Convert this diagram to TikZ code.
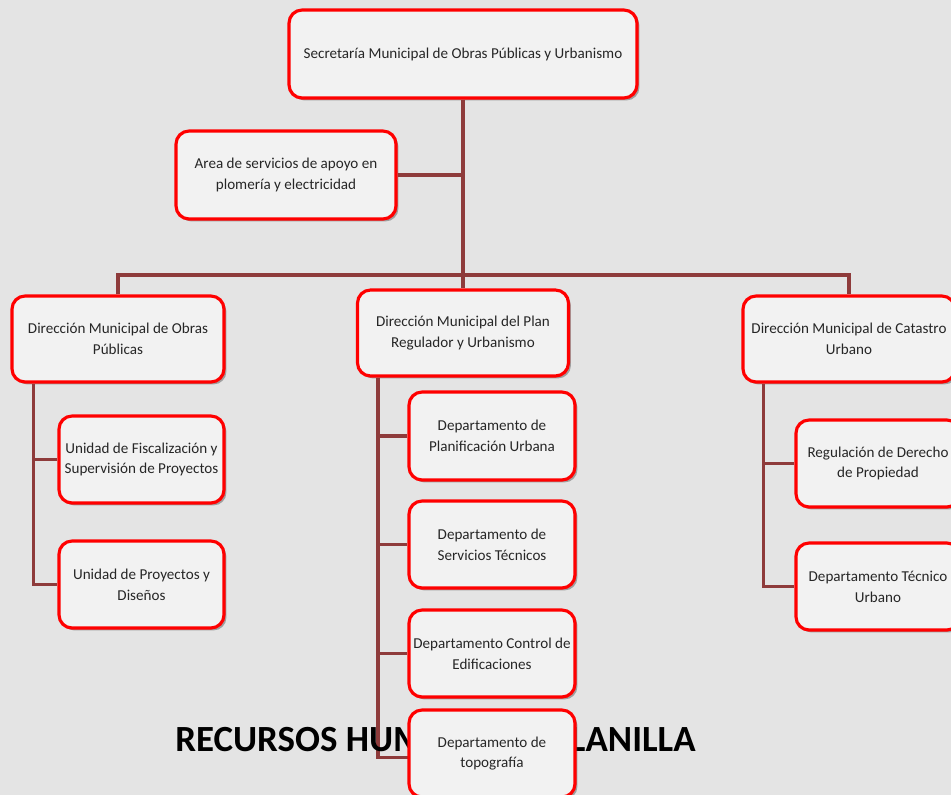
\documentclass[tikz,border=0pt]{standalone}
\usepackage{fontspec}
\setmainfont{Carlito}
\usetikzlibrary{shadows,calc}
\definecolor{bgc}{HTML}{E4E4E4}
\definecolor{linec}{HTML}{8E3B3B}
\definecolor{boxfill}{HTML}{F2F2F2}
\definecolor{txt}{HTML}{262626}
\tikzset{
  orgbox/.style={draw=red, line width=1.8pt, fill=boxfill, rounded corners=0.26cm,
    align=center, text=txt, inner sep=1pt,
    font=\fontsize{8.6}{11.8}\selectfont,
    drop shadow={shadow xshift=1.4pt, shadow yshift=-1.4pt, opacity=0.45, fill=black!70}},
  conn/.style={draw=linec, line width=1.8pt},
  titletxt/.style={font=\bfseries\fontsize{21}{24}\selectfont, text=black, inner sep=0pt}
}
\begin{document}
\begin{tikzpicture}[x=0.02cm, y=-0.02cm]
\useasboundingbox (0,0) rectangle (951,795);
\clip (0,0) rectangle (951,795);
\fill[bgc] (0,0) rectangle (951,795);

% nodes
\node[orgbox, minimum width=6.96cm, minimum height=1.76cm] (top) at (463,54) {Secretaría Municipal de Obras Públicas y Urbanismo};
\node[orgbox, minimum width=4.4cm, minimum height=1.76cm] (area) at (286,175) {Area de servicios de apoyo en\\plomería y electricidad};
\node[orgbox, minimum width=4.24cm, minimum height=1.72cm] (dobras) at (118,339) {Dirección Municipal de Obras\\Públicas};
\node[orgbox, minimum width=4.22cm, minimum height=1.72cm] (dplan) at (463,333) {Dirección Municipal del Plan\\Regulador y Urbanismo};
\node[orgbox, minimum width=4.24cm, minimum height=1.72cm] (dcat) at (849,339) {Dirección Municipal de Catastro\\Urbano};

\coordinate (bus) at (463,275);

% connectors
\draw[conn] (top.south) -- (dplan.north);
\draw[conn] (area.east) -- (top.south |- area.east);
\draw[conn] (dobras.north) |- (bus) -| (dcat.north);

\node[orgbox, minimum width=3.3cm, minimum height=1.74cm] (ufis) at (141.5,459.5) {Unidad de Fiscalización y\\Supervisión de Proyectos};
\node[orgbox, minimum width=3.3cm, minimum height=1.74cm] (upro) at (141.5,584.5) {Unidad de Proyectos y\\Diseños};

\node[orgbox, minimum width=3.32cm, minimum height=1.76cm] (planif) at (492,436) {Departamento de\\Planificación Urbana};
\node[orgbox, minimum width=3.32cm, minimum height=1.74cm] (serv) at (492,544.5) {Departamento de\\Servicios Técnicos};
\node[orgbox, minimum width=3.32cm, minimum height=1.74cm] (control) at (492,653.5) {Departamento Control de\\Edificaciones};

\node[orgbox, minimum width=3.28cm, minimum height=1.74cm] (reg) at (878,463.5) {Regulación de Derecho\\de Propiedad};
\node[orgbox, minimum width=3.28cm, minimum height=1.74cm] (tec) at (878,586.5) {Departamento Técnico\\Urbano};

% left branch
\draw[conn] (dobras.south west) ++(23,0) |- (upro.west);
\draw[conn] (ufis.west) -- ++(-24,0);
% middle branch
\coordinate (topoc) at (492,753.5);
\draw[conn] (dplan.south west) ++(22,0) |- ($(topoc)+(-83,4)$);
\draw[conn] (planif.west) -- ++(-30,0);
\draw[conn] (serv.west) -- ++(-30,0);
\draw[conn] (control.west) -- ++(-30,0);
% right branch
\draw[conn] (dcat.south west) ++(22,0) |- (tec.west);
\draw[conn] (reg.west) -- ++(-31,0);

% title parts visible on either side of the last box
\node[titletxt, anchor=base west] (title1) at (175,751) {RECURSOS HUM};
\node[titletxt, anchor=base east] (title2) at (696,751) {LANILLA};

\node[orgbox, minimum width=3.32cm, minimum height=1.74cm] (topo) at (topoc) {Departamento de\\topografía};
\end{tikzpicture}
\end{document}
